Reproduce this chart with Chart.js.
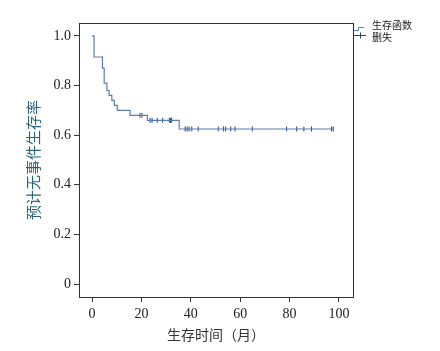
<!DOCTYPE html>
<html>
<head>
<meta charset="utf-8">
<script src="https://cdn.jsdelivr.net/npm/chart.js@4/dist/chart.umd.min.js"></script>
<style>
  body { margin: 0; background: #fff; }
</style>
</head>
<body>
<canvas id="kmChart" width="440" height="351"></canvas>
<script>
// Kaplan-Meier steps (month, survival after the event)
const eventTimes = [0, 0.8, 4.2, 4.9, 6.0, 6.9, 8.0, 9.0, 10.2, 15.4, 22.4, 35.3, 97.7];
const survival   = [1.0, 0.915, 0.87, 0.81, 0.78, 0.76, 0.74, 0.72, 0.70, 0.68, 0.66, 0.625, 0.625];

// censored observations (month)
const censorTimes = [19.4, 20.2, 23.5, 24.3, 26.4, 28.6, 31.3, 31.8, 32.2, 37.7, 38.5, 39.3, 40.4, 43.0,
                     51.1, 53.2, 54.1, 56.2, 57.9, 64.9, 78.8, 82.9, 85.8, 88.9, 97.0, 97.7];

const xTicks = [0, 20, 40, 60, 80, 100];
const yTicks = [0, 0.2, 0.4, 0.6, 0.8, 1.0];

function survAt(t) {
    let s = survival[0];
    for (let i = 0; i < eventTimes.length; i++) {
        if (eventTimes[i] <= t) s = survival[i];
    }
    return s;
}

const lineColor = '#5b7db5';
const censorColor = '#24427f';

// frame around the plot + legend outside on the right
const framePlugin = {
    id: 'frame',
    afterDraw(chart) {
        const { ctx, chartArea: a } = chart;
        ctx.save();
        ctx.strokeStyle = '#333';
        ctx.lineWidth = 1;
        ctx.strokeRect(a.left + 0.5, a.top + 0.5, a.right - a.left, a.bottom - a.top);

        // legend
        ctx.lineWidth = 1;
        ctx.strokeStyle = lineColor;
        ctx.beginPath();
        ctx.moveTo(354, 30.5);
        ctx.lineTo(358.5, 30.5);
        ctx.lineTo(358.5, 27.5);
        ctx.lineTo(364, 27.5);
        ctx.stroke();
        ctx.strokeStyle = censorColor;
        ctx.beginPath();
        ctx.moveTo(354, 35.5);
        ctx.lineTo(366, 35.5);
        ctx.moveTo(360.5, 32.5);
        ctx.lineTo(360.5, 38.5);
        ctx.stroke();

        ctx.fillStyle = '#222';
        ctx.font = '10px "Noto Sans CJK SC"';
        ctx.textBaseline = 'middle';
        ctx.textAlign = 'left';
        ctx.fillText('生存函数', 372, 25);
        ctx.fillText('删失', 372, 37.5);
        ctx.restore();
    }
};

const ctx = document.getElementById('kmChart').getContext('2d');

new Chart(ctx, {
    type: 'line',
    data: {
        datasets: [
            {
                label: '生存函数',
                data: eventTimes.map((t, i) => ({ x: t, y: survival[i] })),
                borderColor: lineColor,
                borderWidth: 1.2,
                stepped: 'before',
                pointRadius: 0,
                fill: false
            },
            {
                label: '删失',
                data: censorTimes.map(t => ({ x: t, y: survAt(t) })),
                showLine: false,
                pointStyle: 'line',
                rotation: 90,
                pointRadius: 2.5,
                pointBorderWidth: 1,
                borderColor: censorColor,
                backgroundColor: censorColor
            }
        ]
    },
    options: {
        responsive: false,
        animation: false,
        layout: {
            padding: { top: 23, right: 87, left: 0, bottom: 0 }
        },
        plugins: {
            legend: { display: false },
            tooltip: { enabled: false }
        },
        scales: {
            x: {
                type: 'linear',
                min: -5.3,
                max: 105.7,
                afterBuildTicks: s => { s.ticks = xTicks.map(v => ({ value: v })); },
                afterFit: s => { s.height = 54; },
                grid: { drawOnChartArea: false, tickLength: 5, color: '#333' },
                border: { display: true, color: '#333' },
                ticks: {
                    padding: 4,
                    color: '#222',
                    font: { family: '"Liberation Serif"', size: 14 }
                },
                title: {
                    display: true,
                    text: '生存时间（月）',
                    color: '#333',
                    font: { family: '"Noto Sans CJK SC"', size: 14 },
                    padding: { top: 0, bottom: 8 }
                }
            },
            y: {
                min: -0.052,
                max: 1.052,
                afterBuildTicks: s => { s.ticks = yTicks.map(v => ({ value: v })); },
                afterFit: s => { s.width = 79; },
                grid: { drawOnChartArea: false, tickLength: 5, color: '#333' },
                border: { display: true, color: '#333' },
                ticks: {
                    padding: 3,
                    color: '#222',
                    font: { family: '"Liberation Serif"', size: 14 },
                    callback: v => v === 0 ? '0' : v.toFixed(1)
                },
                title: {
                    display: true,
                    text: '预计无事件生存率',
                    color: '#2a6478',
                    font: { family: '"Noto Sans CJK SC"', size: 15 },
                    padding: { top: 24, bottom: 0 }
                }
            }
        }
    },
    plugins: [framePlugin]
});
</script>
</body>
</html>
